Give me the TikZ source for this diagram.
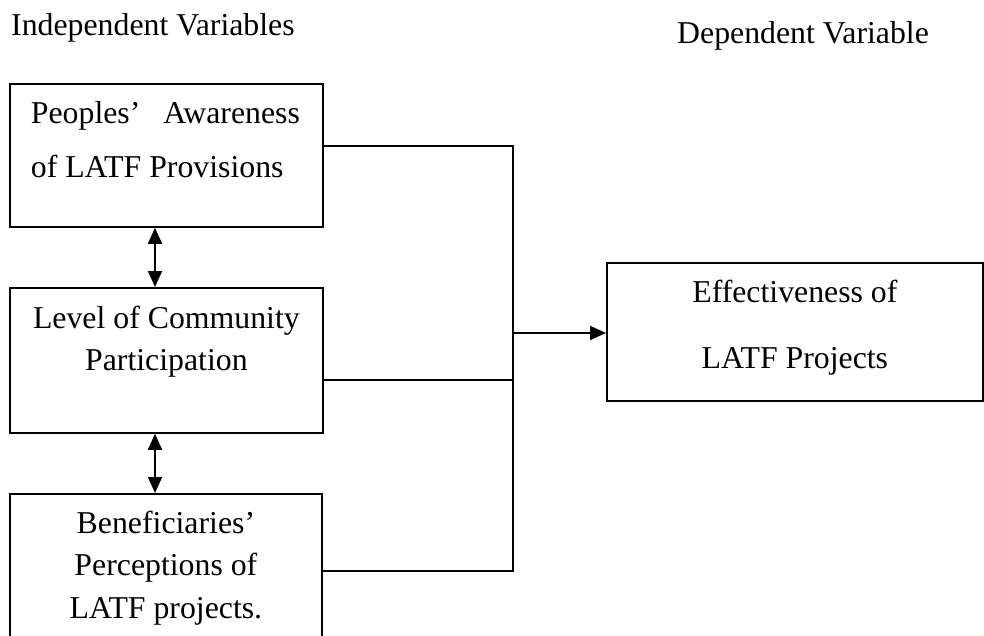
\documentclass[tikz,border=0pt]{standalone}
\usepackage{fontspec}
\setmainfont{Liberation Serif}
\usetikzlibrary{arrows.meta}
\newcommand{\bxc}[3]{\vskip#1\hbox to #2{\hss\smash{#3}\hss}}
\newcommand{\bxl}[3]{\vskip#1\hbox to #2{\hskip21pt\smash{#3}\hss}}
\begin{document}
\begin{tikzpicture}[x=1pt,y=-1pt,
  every node/.style={inner sep=0pt, font=\fontsize{31.8}{38}\selectfont},
  varbox/.style={draw, line width=1.8pt, anchor=north west},
  conn/.style={line width=1.8pt},
  arr/.style={line width=1.8pt, -{Triangle[length=16pt,width=14pt]}},
  darr/.style={line width=1.8pt, {Triangle[length=16pt,width=14pt]}-{Triangle[length=16pt,width=14pt]}}]
\useasboundingbox (0,0) rectangle (984,635);
\clip (0,0) rectangle (984,635);
\fill[white] (0,0) rectangle (984,635);

\node[anchor=base west] (hind) at (11,35) {Independent Variables};
\node[anchor=base west] (hdep) at (677,43) {Dependent Variable};

\node[varbox] (b1) at (9,83) {\vbox to 143pt{\offinterlineskip
  \bxl{39.7pt}{313pt}{\hbox to 269pt{Peoples’\hfill Awareness}}
  \bxl{54pt}{313pt}{of LATF Provisions}\vss}};
\node[varbox] (b2) at (9,287) {\vbox to 145pt{\offinterlineskip
  \bxc{41pt}{313pt}{Level of Community}
  \bxc{42pt}{313pt}{Participation}\vss}};
\node[varbox] (b3) at (9,493) {\vbox to 157pt{\offinterlineskip
  \bxc{40pt}{312pt}{Beneficiaries’}
  \bxc{42pt}{312pt}{Perceptions of}
  \bxc{43pt}{312pt}{LATF projects.}\vss}};
\node[varbox] (b4) at (606,262) {\vbox to 138pt{\offinterlineskip
  \bxc{40pt}{376pt}{Effectiveness of}
  \bxc{66pt}{376pt}{LATF Projects}\vss}};

\coordinate (bustop) at (513,146);
\coordinate (busmid) at (513,380);
\coordinate (busbot) at (513,571);
\coordinate (busout) at (513,333);

\draw[conn] (b1.east |- bustop) -- (bustop) -- (busbot) -- (b3.east |- busbot);
\draw[conn] (b2.east |- busmid) -- (busmid);
\draw[arr] (busout) -- (b4.west |- busout);

\draw[darr] (b1.south -| 155,0) -- (b2.north -| 155,0);
\draw[darr] (b2.south -| 155,0) -- (b3.north -| 155,0);
\end{tikzpicture}
\end{document}
